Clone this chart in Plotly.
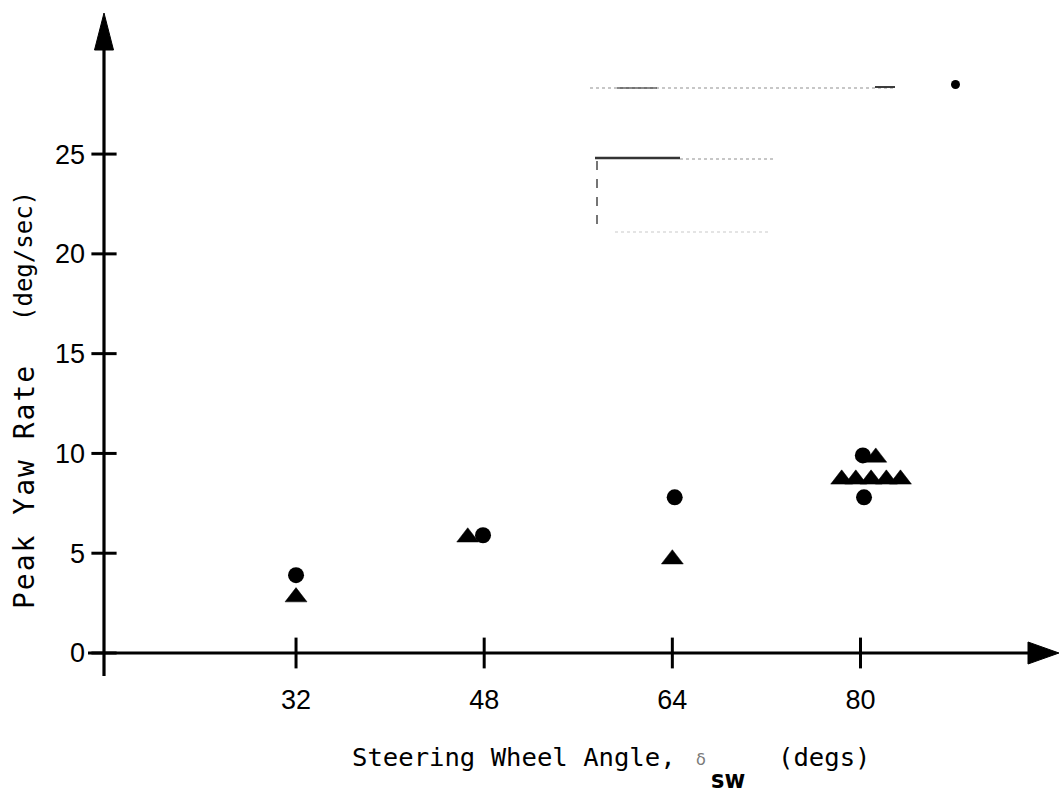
import plotly.graph_objects as go

# Peak yaw rate readings (deg/sec) against steering wheel angle (degs)
circle_x = [32.0, 47.9, 64.2, 80.2, 80.3]
circle_y = [3.9, 5.9, 7.8, 9.9, 7.8]
triangle_x = [32.0, 46.6, 64.0, 81.3, 78.4, 79.6, 80.9, 82.2, 83.4]
triangle_y = [2.8, 5.8, 4.7, 9.8, 8.7, 8.7, 8.7, 8.7, 8.7]

x_ticks = [32, 48, 64, 80]
y_ticks = [0, 5, 10, 15, 20, 25]

W, H = 1059, 796
ML, MB = 104, 143
PW, PH = W - ML, H - MB
X_RANGE = [15.67, 96.88]
Y_RANGE = [0, 32.72]

TICK_FONT = "Liberation Sans, Arial, sans-serif"
MONO = "DejaVu Sans Mono, monospace"
INK = "#000000"


def fx(p):
    """page pixel column -> paper x"""
    return (p - ML) / PW


def fy(p):
    """page pixel row -> paper y"""
    return (H - MB - p) / PH


fig = go.Figure()

# data markers
fig.add_trace(go.Scatter(
    x=circle_x, y=circle_y, mode="markers",
    marker=dict(symbol="circle", size=16, color=INK, line=dict(width=0)),
    hoverinfo="x+y",
))
fig.add_trace(go.Scatter(
    x=triangle_x, y=triangle_y, mode="markers",
    marker=dict(symbol="triangle-up", size=19, color=INK, line=dict(width=0.5, color=INK)),
    hoverinfo="x+y",
))

# cross-shaped tick marks sitting on the axis lines
fig.add_trace(go.Scatter(
    x=[X_RANGE[0]] * len(y_ticks), y=y_ticks, mode="markers", cliponaxis=False,
    marker=dict(symbol="line-ew", size=18, line=dict(width=3, color=INK)),
    hoverinfo="skip",
))
fig.add_trace(go.Scatter(
    x=x_ticks, y=[Y_RANGE[0]] * len(x_ticks), mode="markers", cliponaxis=False,
    marker=dict(symbol="line-ns", size=22, line=dict(width=3, color=INK)),
    hoverinfo="skip",
))

shapes = []
# axis lines with arrow heads
shapes.append(dict(type="line", xref="paper", yref="paper",
                   x0=fx(104), x1=fx(104), y0=fy(676), y1=fy(48),
                   line=dict(color=INK, width=3.2)))
shapes.append(dict(type="line", xref="paper", yref="paper",
                   x0=fx(88), x1=fx(1032), y0=fy(653), y1=fy(653),
                   line=dict(color=INK, width=3.2)))
shapes.append(dict(type="path", xref="paper", yref="paper",
                   path=f"M {fx(94.5)} {fy(50)} L {fx(113.5)} {fy(50)} L {fx(104)} {fy(13)} Z",
                   fillcolor=INK, line=dict(color=INK, width=1)))
shapes.append(dict(type="path", xref="paper", yref="paper",
                   path=f"M {fx(1028)} {fy(642)} L {fx(1028)} {fy(664)} L {fx(1059)} {fy(653)} Z",
                   fillcolor=INK, line=dict(color=INK, width=1)))

# faded remains of a legend frame
faint = "rgba(120,120,120,0.55)"
shapes += [
    dict(type="line", xref="paper", yref="paper", x0=fx(590), x1=fx(895), y0=fy(88), y1=fy(88),
         line=dict(color=faint, width=1.5, dash="dot")),
    dict(type="line", xref="paper", yref="paper", x0=fx(617), x1=fx(657), y0=fy(88), y1=fy(88),
         line=dict(color="rgba(60,60,60,0.8)", width=1.5)),
    dict(type="line", xref="paper", yref="paper", x0=fx(875), x1=fx(895), y0=fy(87), y1=fy(87),
         line=dict(color="rgba(40,40,40,0.9)", width=2)),
    dict(type="circle", xref="paper", yref="paper", x0=fx(951), x1=fx(960), y0=fy(89), y1=fy(80),
         fillcolor=INK, line=dict(width=0)),
    dict(type="line", xref="paper", yref="paper", x0=fx(595), x1=fx(680), y0=fy(158), y1=fy(158),
         line=dict(color="rgba(30,30,30,0.9)", width=2.5)),
    dict(type="line", xref="paper", yref="paper", x0=fx(680), x1=fx(773), y0=fy(159), y1=fy(159),
         line=dict(color=faint, width=1.5, dash="dot")),
    dict(type="line", xref="paper", yref="paper", x0=fx(597), x1=fx(597), y0=fy(161), y1=fy(225),
         line=dict(color="rgba(40,40,40,0.85)", width=1.5, dash="dash")),
    dict(type="line", xref="paper", yref="paper", x0=fx(615), x1=fx(770), y0=fy(232), y1=fy(232),
         line=dict(color="rgba(150,150,150,0.5)", width=1.2, dash="dot")),
]

annotations = [
    # y axis title, rotated
    dict(text="<span style='letter-spacing:2px'>Peak Yaw Rate</span>", textangle=-90,
         xref="paper", yref="paper", x=fx(24), y=fy(487), xanchor="center", yanchor="middle",
         showarrow=False, font=dict(family=MONO, size=28, color=INK)),
    dict(text="(deg/sec)", textangle=-90,
         xref="paper", yref="paper", x=fx(24), y=fy(256), xanchor="center", yanchor="middle",
         showarrow=False, font=dict(family=MONO, size=24, color=INK)),
    # x axis title pieces
    dict(text="Steering Wheel Angle,", xref="paper", yref="paper",
         x=fx(350), y=fy(757), xanchor="left", yanchor="middle", showarrow=False,
         font=dict(family=MONO, size=25.6, color=INK)),
    dict(text="δ", xref="paper", yref="paper",
         x=fx(701), y=fy(759), xanchor="center", yanchor="middle", showarrow=False,
         font=dict(family="DejaVu Sans, sans-serif", size=16, color="#7a7a7a")),
    dict(text="<b>sw</b>", xref="paper", yref="paper",
         x=fx(728), y=fy(796), xanchor="center", yanchor="bottom", showarrow=False,
         font=dict(family="Liberation Sans Narrow, DejaVu Sans Condensed, sans-serif",
                   size=25, color=INK)),
    dict(text="(degs)", xref="paper", yref="paper",
         x=fx(776), y=fy(757), xanchor="left", yanchor="middle", showarrow=False,
         font=dict(family=MONO, size=25.6, color=INK)),
]

fig.update_layout(
    width=W, height=H,
    margin=dict(l=ML, r=0, t=0, b=MB, pad=0),
    paper_bgcolor="white", plot_bgcolor="white",
    showlegend=False,
    shapes=shapes, annotations=annotations,
    xaxis=dict(range=X_RANGE, showgrid=False, zeroline=False, showline=False,
               tickmode="array", tickvals=x_ticks, ticktext=[str(v) for v in x_ticks],
               ticks="", ticklabelstandoff=28,
               tickfont=dict(family=TICK_FONT, size=27, color=INK), fixedrange=True),
    yaxis=dict(range=Y_RANGE, showgrid=False, zeroline=False, showline=False,
               tickmode="array", tickvals=y_ticks, ticktext=[str(v) for v in y_ticks],
               ticks="", ticklabelstandoff=18,
               tickfont=dict(family=TICK_FONT, size=27, color=INK), fixedrange=True),
)

fig.write_html("out.html", config=dict(displayModeBar=False))
